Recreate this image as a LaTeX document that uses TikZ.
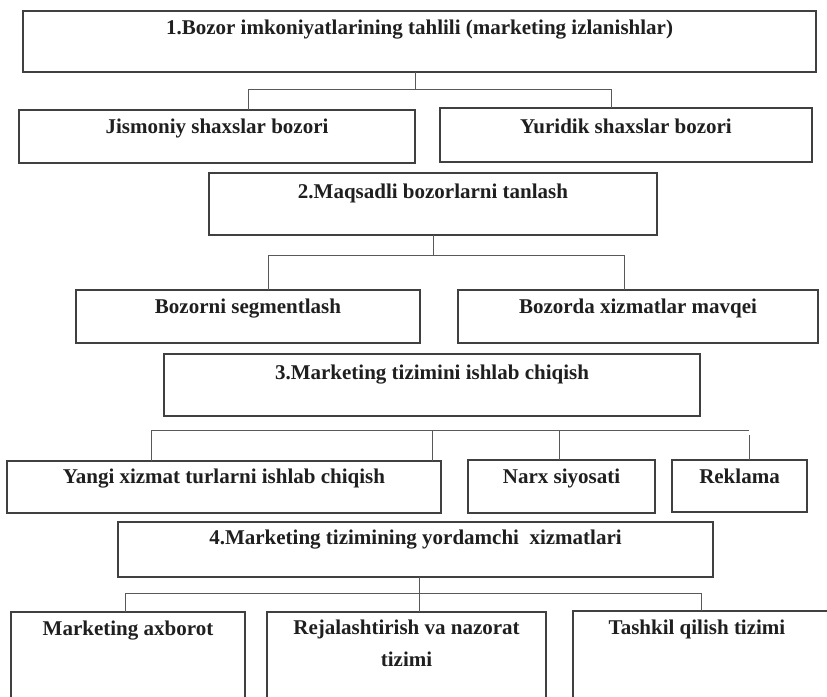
\documentclass[tikz,border=0pt]{standalone}
\usepackage{fontspec}
\setmainfont{Liberation Serif}
\begin{document}
\begin{tikzpicture}[x=1pt,y=-1pt,
  box/.style={draw=black!75,line width=1.2pt,rectangle,inner sep=0pt,outer sep=0pt,anchor=north west},
  lbl/.style={inner sep=0pt,anchor=base,text=black!88,font=\fontsize{21}{32}\selectfont\bfseries,align=center},
  wire/.style={draw=black!65,line width=0.9pt}]
\clip (0,0) rectangle (827,696);
\fill[white] (0,0) rectangle (827,696);

% level 1
\node[box,minimum width=793pt,minimum height=61pt] (b1) at (23,11) {};
\node[lbl] (t1) at ([yshift=-23pt]b1.north) {1.Bozor imkoniyatlarining tahlili (marketing izlanishlar)};
\node[box,minimum width=396pt,minimum height=53pt] (jis) at (19,110) {};
\node[lbl] (tjis) at ([yshift=-23pt]jis.north) {Jismoniy shaxslar bozori};
\node[box,minimum width=372pt,minimum height=54pt] (yur) at (440,108) {};
\node[lbl] (tyur) at ([yshift=-25pt]yur.north) {Yuridik shaxslar bozori};

% level 2
\node[box,minimum width=448pt,minimum height=62pt] (b2) at (209,173) {};
\node[lbl] (t2) at ([yshift=-25pt]b2.north) {2.Maqsadli bozorlarni tanlash};
\node[box,minimum width=344pt,minimum height=53pt] (seg) at (76,290) {};
\node[lbl] (tseg) at ([yshift=-23pt]seg.north) {Bozorni segmentlash};
\node[box,minimum width=360pt,minimum height=53pt] (mav) at (458,290) {};
\node[lbl] (tmav) at ([yshift=-23pt]mav.north) {Bozorda xizmatlar mavqei};

% level 3
\node[box,minimum width=536pt,minimum height=62pt] (b3) at (164,354) {};
\node[lbl] (t3) at ([yshift=-25pt]b3.north) {3.Marketing tizimini ishlab chiqish};
\node[box,minimum width=434pt,minimum height=52pt] (yan) at (7,461) {};
\node[lbl] (tyan) at ([yshift=-22pt]yan.north) {Yangi xizmat turlarni ishlab chiqish};
\node[box,minimum width=187pt,minimum height=53pt] (nar) at (468,460) {};
\node[lbl] (tnar) at ([yshift=-23pt]nar.north) {Narx siyosati};
\node[box,minimum width=135pt,minimum height=52pt] (rek) at (672,460) {};
\node[lbl] (trek) at ([yshift=-23pt]rek.north) {Reklama};

% level 4
\node[box,minimum width=595pt,minimum height=55pt] (b4) at (118,522) {};
\node[lbl] (t4) at ([yshift=-22pt]b4.north) {4.Marketing tizimining yordamchi\ \ xizmatlari};
\node[box,minimum width=234pt,minimum height=110pt] (axb) at (11,612) {};
\node[lbl] (taxb) at ([yshift=-23pt]axb.north) {Marketing axborot};
\node[box,minimum width=279pt,minimum height=110pt] (rej) at (267,612) {};
\node[lbl,anchor=north] (trej) at ([yshift=-8pt]rej.north) {Rejalashtirish va nazorat\\tizimi};
\node[box,minimum width=280pt,minimum height=110pt] (tas) at (573,611) {};
\node[lbl] (ttas) at ([xshift=-16pt,yshift=-23pt]tas.north) {Tashkil qilish tizimi};

% connectors, level 1
\coordinate (c1m) at (415,89);
\coordinate (c1l) at (248,89);
\coordinate (c1r) at (611,89);
\draw[wire] (b1.south -| c1m) -- (c1m);
\draw[wire] (jis.north -| c1l) -- (c1l) -- (c1r) -- (yur.north -| c1r);

% connectors, level 2
\coordinate (c2m) at (433,255);
\coordinate (c2l) at (268,255);
\coordinate (c2r) at (624,255);
\draw[wire] (b2.south -| c2m) -- (c2m);
\draw[wire] (seg.north -| c2l) -- (c2l) -- (c2r) -- (mav.north -| c2r);

% connectors, level 3
\coordinate (c3l) at (151,430);
\coordinate (c3m) at (432,430);
\coordinate (c3n) at (559,430);
\coordinate (c3r) at (749,430);
\draw[wire] (yan.north -| c3l) -- (c3l) -- (c3r);
\draw[wire] (c3m) -- (yan.north -| c3m);
\draw[wire] (c3n) -- (nar.north -| c3n);
\draw[wire] ([yshift=-5pt]c3r) -- (rek.north -| c3r);

% connectors, level 4
\coordinate (c4m) at (419,593);
\coordinate (c4l) at (125,593);
\coordinate (c4r) at (701,593);
\draw[wire] (b4.south -| c4m) -- (rej.north -| c4m);
\draw[wire] (axb.north -| c4l) -- (c4l) -- (c4r) -- (tas.north -| c4r);
\end{tikzpicture}
\end{document}
